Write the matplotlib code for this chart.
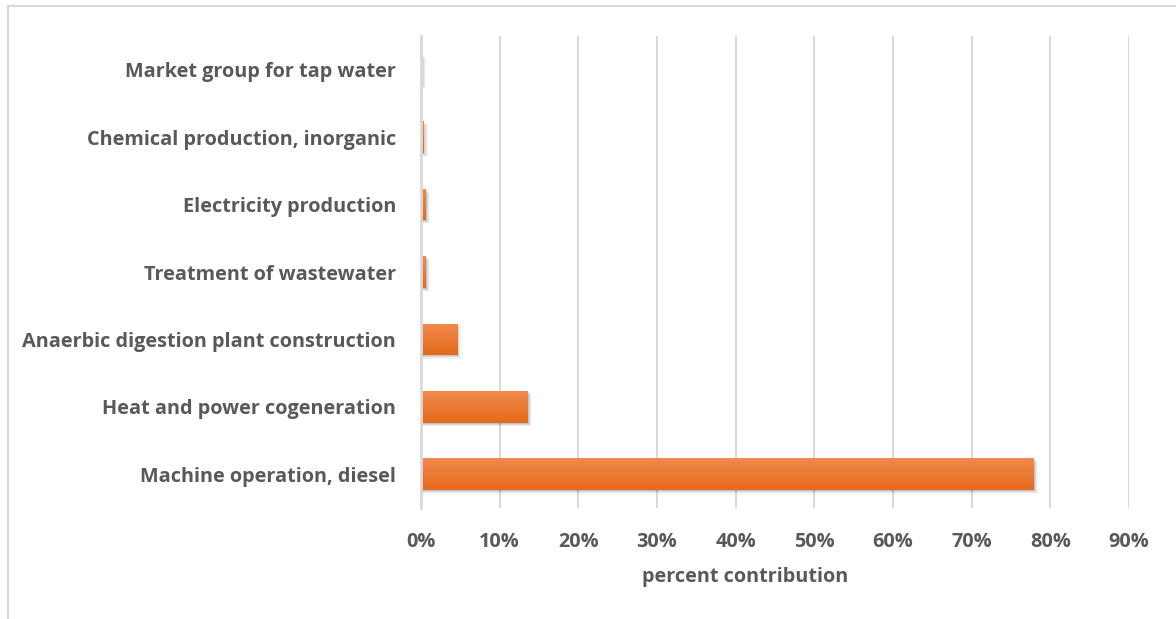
import numpy as np
import matplotlib.pyplot as plt
from matplotlib.lines import Line2D
from matplotlib.colors import LinearSegmentedColormap

categories = ['Machine operation, diesel', 'Heat and power cogeneration',
              'Anaerbic digestion plant construction', 'Treatment of wastewater',
              'Electricity production', 'Chemical production, inorganic',
              'Market group for tap water']
values = [0.779, 0.136, 0.046, 0.006, 0.006, 0.003, 0.0005]
ticks = np.arange(0, 1.0, 0.1)
tick_labels = ['%d%%' % round(t * 100) for t in ticks]

W, H = 1176, 619
fig = plt.figure(figsize=(W / 100, H / 100), dpi=100)
ax = fig.add_axes([421 / W, 1 - 508 / H, (1129 - 421) / W, (508 - 36) / H])

txt = '#595959'
fs = 14.3
y = np.arange(len(categories))
h = 0.47

# soft shadow
for k, a in zip([1, 2, 3, 4], [0.10, 0.08, 0.05, 0.03]):
    ax.barh(y - 0.014 * k, [v + 0.0014 * k for v in values], height=h,
            color='k', alpha=a, zorder=2, linewidth=0)

bars = ax.barh(y, values, height=h, color='#ED7D31', zorder=3, linewidth=0)
grad = np.linspace(0, 1, 64).reshape(-1, 1)
cmap = LinearSegmentedColormap.from_list('o', ['#E56A1A', '#F08A4E'])
for b in bars:
    x0, y0 = b.get_x(), b.get_y()
    im = ax.imshow(grad, cmap=cmap, aspect='auto', origin='lower',
                   extent=[x0, x0 + b.get_width(), y0, y0 + b.get_height()], zorder=4)
    im.set_clip_path(b)

ax.set_xlim(0, 0.9)
ax.set_ylim(-0.5, len(categories) - 0.5)
ax.set_xticks(ticks)
ax.set_xticklabels(tick_labels)
ax.set_yticks(y)
ax.set_yticklabels(categories)
ax.grid(axis='x', color='#D9D9D9', linewidth=1.5, zorder=0)
for s in ['top', 'right', 'bottom']:
    ax.spines[s].set_visible(False)
ax.spines['left'].set_color('#D9D9D9')
ax.spines['left'].set_linewidth(2)
ax.spines['left'].set_zorder(5)
ax.tick_params(length=0, labelsize=fs, labelcolor=txt)
ax.tick_params(axis='x', pad=17)
ax.tick_params(axis='y', pad=18)
for lab in ax.get_xticklabels() + ax.get_yticklabels():
    lab.set_fontweight('bold')
    lab.set_fontfamily('Open Sans')
ax.set_xlabel('percent contribution', fontsize=fs, fontweight='bold',
              color=txt, family='Open Sans', labelpad=10)
ax.xaxis.set_label_coords(0.458, -0.125)

# chart border
fig.add_artist(Line2D([7.5 / W, 7.5 / W], [0, 1 - 6 / H], color='#D9D9D9', lw=1.5))
fig.add_artist(Line2D([7.5 / W, 1], [1 - 6 / H, 1 - 6 / H], color='#D9D9D9', lw=1.5))

fig.savefig('out.png', dpi=100)
